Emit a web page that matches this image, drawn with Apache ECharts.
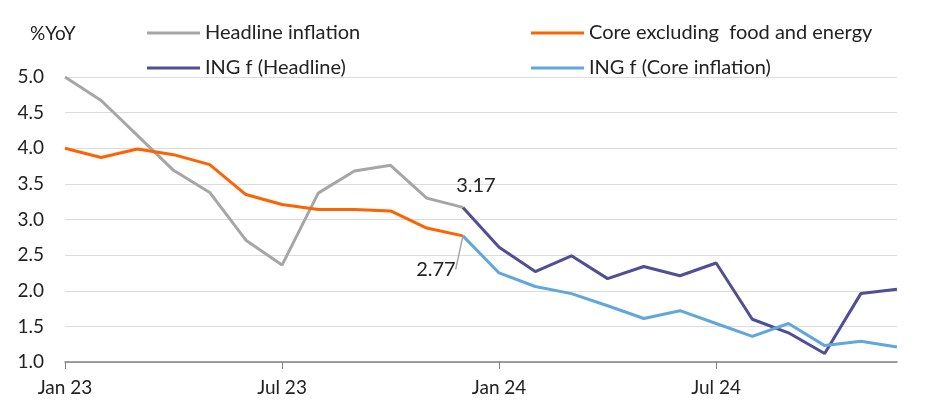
<!DOCTYPE html>
<html>
<head>
<meta charset="utf-8">
<script src="https://cdn.jsdelivr.net/npm/echarts@6/dist/echarts.min.js"></script>
<style>
html,body{margin:0;padding:0;background:#fff;}
#c{width:952px;height:416px;}
</style>
</head>
<body>
<div id="c"></div>
<script>
const categories = ["Jan 23","Feb 23","Mar 23","Apr 23","May 23","Jun 23","Jul 23","Aug 23","Sep 23","Oct 23","Nov 23","Dec 23",
  "Jan 24","Feb 24","Mar 24","Apr 24","May 24","Jun 24","Jul 24","Aug 24","Sep 24","Oct 24","Nov 24","Dec 24"];
const headline = [5.0,4.67,4.18,3.69,3.38,2.71,2.36,3.37,3.68,3.76,3.30,3.17];
const core = [4.0,3.87,3.99,3.91,3.77,3.35,3.21,3.14,3.14,3.12,2.88,2.77];
const ingHeadline = [3.17,2.61,2.27,2.49,2.17,2.34,2.21,2.39,1.60,1.41,1.12,1.96,2.02];
const ingCore = [2.77,2.25,2.06,1.96,1.79,1.61,1.72,1.54,1.36,1.54,1.23,1.29,1.21];

const FONT = 'Lato';
const pad = (arr, before, total) => {
  const out = new Array(total).fill(null);
  arr.forEach((v,i)=>{ out[before+i] = v; });
  return out;
};
const N = categories.length;
const headlineData = pad(headline, 0, N);
headlineData[11] = {value: headline[11], symbol:'circle', symbolSize:1,
  label:{show:true, formatter:'3.17', position:'top', offset:[13,-6], color:'#222', fontSize:20, fontFamily:FONT}};
const coreData = pad(core, 0, N);
const ingHeadlineData = pad(ingHeadline, 11, N);
const ingCoreData = pad(ingCore, 11, N);
ingCoreData[11] = {value: ingCore[0], symbol:'circle', symbolSize:1,
  label:{show:true, formatter:'2.77', position:'bottom', color:'#222', fontSize:20, fontFamily:FONT},
  labelLine:{show:true, lineStyle:{color:'#a6a6a6', width:1.5}}};

const chart = echarts.init(document.getElementById('c'), null, {renderer:'canvas'});
const lineBase = {type:'line', showSymbol:true, symbol:'none', connectNulls:false, animation:false, z:2};
chart.setOption({
  backgroundColor:'#fff',
  animation:false,
  textStyle:{fontFamily:FONT},
  grid:{left:65, right:55, top:77, bottom:54, containLabel:false},
  graphic:[{type:'text', left:30, top:24, style:{text:'%YoY', fontSize:19, fontFamily:FONT, fill:'#222'}}],
  legend:[
    {left:142, top:17, orient:'vertical', itemWidth:53, itemHeight:3, itemGap:13, icon:'rect',
     data:['Headline inflation','ING f (Headline)'],
     textStyle:{fontSize:20, color:'#222', fontFamily:FONT, lineHeight:22}},
    {left:526, top:17, orient:'vertical', itemWidth:53, itemHeight:3, itemGap:13, icon:'rect',
     data:['Core excluding  food and energy','ING f (Core inflation)'],
     textStyle:{fontSize:20, color:'#222', fontFamily:FONT, lineHeight:22}}
  ],
  xAxis:{type:'category', data:categories, boundaryGap:false,
    axisLine:{lineStyle:{color:'#808080', width:1.5}},
    axisTick:{interval:5, length:7, lineStyle:{color:'#808080'}},
    axisLabel:{interval:5, fontSize:19, color:'#222', fontFamily:FONT, margin:16},
    splitLine:{show:false}},
  yAxis:{type:'value', min:1.0, max:5.0, interval:0.5,
    axisLine:{show:false}, axisTick:{show:false},
    axisLabel:{fontSize:19, color:'#222', fontFamily:FONT, margin:21, formatter:v=>v.toFixed(1)},
    splitLine:{lineStyle:{color:'#dcdcdc', width:1}}},
  series:[
    Object.assign({}, lineBase, {name:'Headline inflation', data:headlineData, color:'#a6a6a6', lineStyle:{width:3, color:'#a6a6a6'}}),
    Object.assign({}, lineBase, {name:'Core excluding  food and energy', data:coreData, color:'#ff6200', lineStyle:{width:3, color:'#ff6200'}}),
    Object.assign({}, lineBase, {name:'ING f (Headline)', data:ingHeadlineData, color:'#4f4e96', lineStyle:{width:3, color:'#4f4e96'}}),
    Object.assign({}, lineBase, {name:'ING f (Core inflation)', data:ingCoreData, color:'#60a8dc', lineStyle:{width:3, color:'#60a8dc'},
      labelLayout:function(p){ return p.dataIndex===11 ? {dx:-27, dy:18} : {}; }})
  ]
});
</script>
</body>
</html>
